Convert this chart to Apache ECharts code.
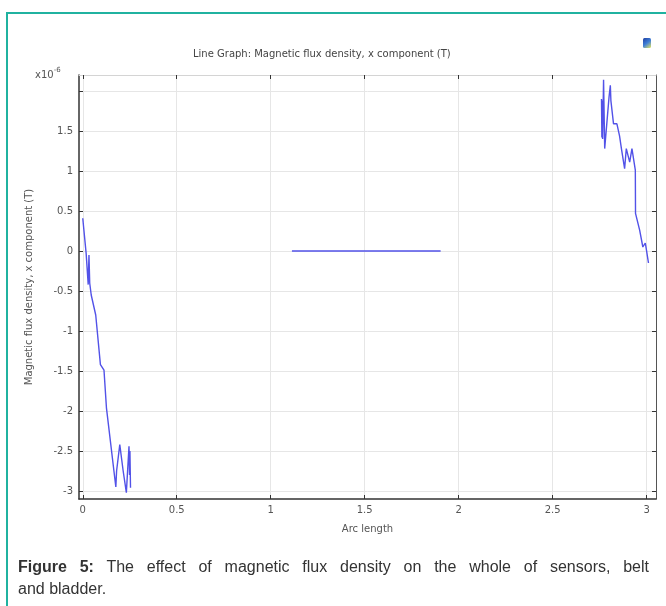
<!DOCTYPE html>
<html>
<head>
<meta charset="utf-8">
<script src="https://cdn.jsdelivr.net/npm/echarts@6/dist/echarts.min.js"></script>
<style>
  html, body { margin: 0; padding: 0; background: #fff; }
  #wrap { position: relative; width: 666px; height: 606px; overflow: hidden; }
  #frame { position: absolute; left: 6px; top: 12px; width: 700px; height: 700px; z-index: 5;
           border: 2px solid #20b2a0; box-sizing: border-box; pointer-events: none; }
  #chart { position: absolute; left: 0; top: 0; width: 666px; height: 606px; }
  .cap { position: absolute; left: 18px; width: 631px;
         font-family: "Liberation Sans", Arial, sans-serif; font-size: 16px;
         line-height: 22px; color: #333; }
  #cap1 { top: 556px; text-align: justify; text-align-last: justify; }
  #cap2 { top: 578px; text-align: left; }
</style>
</head>
<body>
<div id="wrap">
  <div id="chart"></div>
  <div id="frame"></div>
  <div class="cap" id="cap1"><b>Figure 5:</b> The effect of magnetic flux density on the whole of sensors, belt</div>
  <div class="cap" id="cap2">and bladder.</div>
</div>
<script>
// Arc length positions and x component of B (units of 1e-6 T) for each part
const sensorArc = [0, 0.018, 0.026, 0.029, 0.033, 0.037, 0.045, 0.069, 0.094, 0.113, 0.126, 0.176, 0.180, 0.197, 0.215, 0.232, 0.246, 0.249, 0.251, 0.254];
const sensorBx  = [0.41, -0.03, -0.02, -0.42, -0.05, -0.40, -0.55, -0.80, -1.42, -1.49, -1.96, -2.95, -2.75, -2.42, -2.75, -3.02, -2.44, -2.80, -2.50, -2.96];

const beltArc = [1.113, 1.904];
const beltBx  = [0, 0];

const bladderArc = [2.760, 2.762, 2.764, 2.766, 2.771, 2.777, 2.800, 2.807, 2.810, 2.824, 2.842, 2.856, 2.866, 2.883, 2.892, 2.910, 2.922, 2.940, 2.941, 2.963, 2.980, 2.993, 2.998, 3.010];
const bladderBx  = [1.90, 1.42, 1.88, 1.40, 2.14, 1.28, 1.92, 2.07, 1.88, 1.59, 1.59, 1.44, 1.28, 1.03, 1.28, 1.11, 1.28, 1.01, 0.47, 0.26, 0.05, 0.10, 0.03, -0.15];

const xTicks = [0, 0.5, 1, 1.5, 2, 2.5, 3];
const yTicks = [-3, -2.5, -2, -1.5, -1, -0.5, 0, 0.5, 1, 1.5, 2];

const pair = (xs, ys) => xs.map((x, i) => [x, ys[i]]);

const FONT = '"DejaVu Sans", sans-serif';
const LINE = '#5252e8';
const XMIN = -0.02, XMAX = 3.05, YMIN = -3.1, YMAX = 2.2;

const chart = echarts.init(document.getElementById('chart'), null, { renderer: 'canvas' });

const tickStyle = { show: true, inside: true, length: 4, lineStyle: { color: '#333', width: 1 } };

chart.setOption({
  animation: false,
  backgroundColor: 'transparent',
  grid: { left: 79, right: 10, top: 75, bottom: 107, containLabel: false },
  xAxis: [
    {
      type: 'value', min: XMIN, max: XMAX, position: 'bottom',
      name: 'Arc length', nameLocation: 'middle', nameGap: 25,
      nameTextStyle: { fontFamily: FONT, fontSize: 10, color: '#555' },
      axisLine: { show: true, onZero: false, lineStyle: { color: '#333', width: 1.5 } },
      axisTick: Object.assign({ customValues: xTicks }, tickStyle),
      axisLabel: { customValues: xTicks, margin: 6, fontFamily: FONT, fontSize: 10, color: '#555',
                   formatter: v => String(+v.toFixed(2)) },
      splitLine: { show: true, lineStyle: { color: '#e6e6e6', width: 1 } }
    },
    {
      type: 'value', min: XMIN, max: XMAX, position: 'top',
      axisLine: { show: true, onZero: false, lineStyle: { color: '#d4d4d4', width: 1 } },
      axisTick: Object.assign({ customValues: xTicks }, tickStyle),
      axisLabel: { show: false },
      splitLine: { show: false }
    }
  ],
  yAxis: [
    {
      type: 'value', min: YMIN, max: YMAX, position: 'left',
      name: 'Magnetic flux density, x component (T)', nameLocation: 'middle', nameGap: 45,
      nameTextStyle: { fontFamily: FONT, fontSize: 10, color: '#555' },
      axisLine: { show: true, onZero: false, lineStyle: { color: '#333', width: 1.5 } },
      axisTick: Object.assign({ customValues: yTicks }, tickStyle),
      axisLabel: { customValues: yTicks, margin: 6, fontFamily: FONT, fontSize: 10, color: '#555',
                   formatter: v => (Math.abs(v - 2) < 1e-9 ? '' : String(+v.toFixed(2))) },
      splitLine: { show: true, lineStyle: { color: '#e6e6e6', width: 1 } }
    },
    {
      type: 'value', min: YMIN, max: YMAX, position: 'right',
      axisLine: { show: true, onZero: false, lineStyle: { color: '#555', width: 1 } },
      axisTick: Object.assign({ customValues: yTicks }, tickStyle),
      axisLabel: { show: false },
      splitLine: { show: false }
    }
  ],
  series: [
    { name: 'sensors', type: 'line', data: pair(sensorArc, sensorBx), showSymbol: false,
      lineStyle: { color: LINE, width: 1.4 }, xAxisIndex: 0, yAxisIndex: 0 },
    { name: 'belt', type: 'line', data: pair(beltArc, beltBx), showSymbol: false,
      lineStyle: { color: LINE, width: 1.6 }, xAxisIndex: 0, yAxisIndex: 0 },
    { name: 'bladder', type: 'line', data: pair(bladderArc, bladderBx), showSymbol: false,
      lineStyle: { color: LINE, width: 1.4 }, xAxisIndex: 0, yAxisIndex: 0 }
  ],
  graphic: [
    { type: 'text', left: 323 - 130, top: 49,
      style: { text: 'Line Graph: Magnetic flux density, x component (T)', font: '10px ' + FONT, fill: '#444',
               width: 260, align: 'center' } },
    { type: 'text', left: 35, top: 67,
      style: { text: '{b|x10}{s|-6}',
               rich: { b: { font: '10px ' + FONT, fill: '#555', verticalAlign: 'bottom' },
                       s: { font: '7px ' + FONT, fill: '#555', verticalAlign: 'top', padding: [0, 0, 6, 0] } } } },
    { type: 'rect', left: 643, top: 38, shape: { width: 8, height: 10, r: 1.5 },
      style: { fill: new echarts.graphic.LinearGradient(0, 0, 1, 1, [
        { offset: 0, color: '#1f3fa0' }, { offset: 0.5, color: '#3f7fd8' }, { offset: 1, color: '#e8e860' }
      ]) } }
  ]
});
</script>
</body>
</html>
